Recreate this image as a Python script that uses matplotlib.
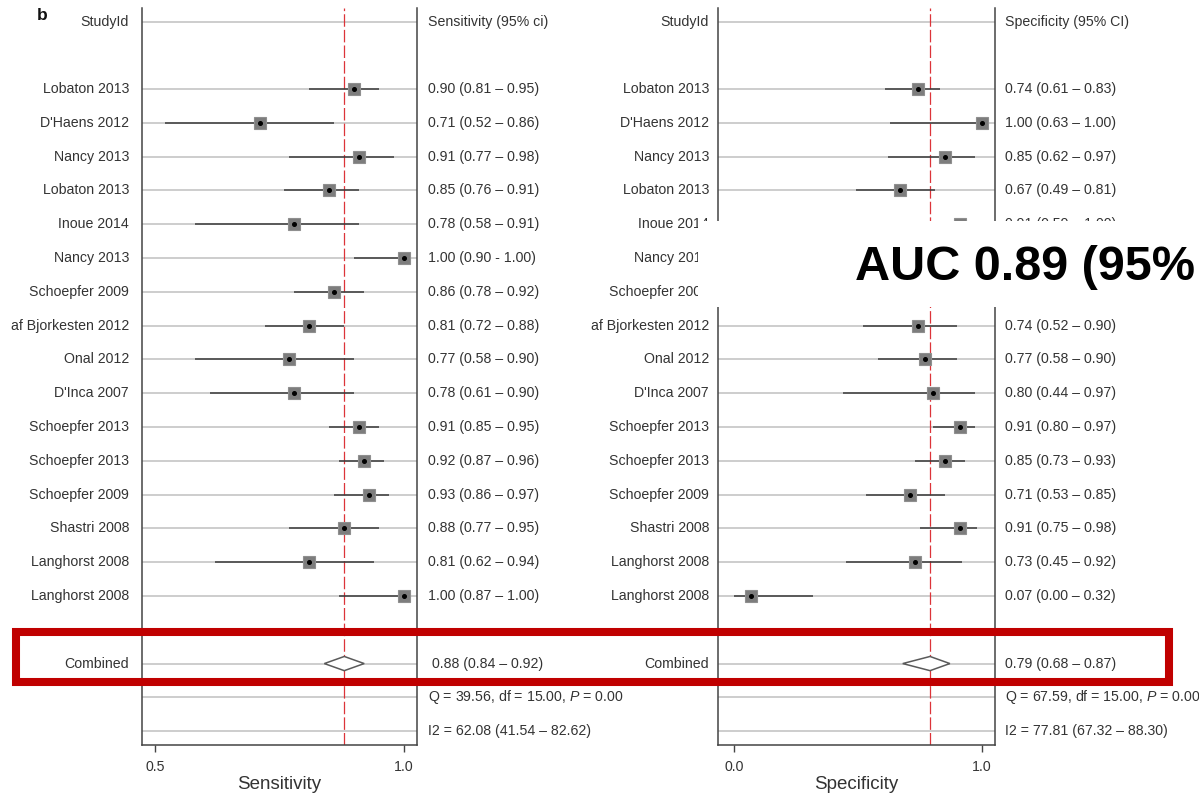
import matplotlib
matplotlib.use('Agg')
import matplotlib.pyplot as plt
from matplotlib.patches import Rectangle, Polygon
from matplotlib.transforms import blended_transform_factory

plt.rcParams['font.family'] = ['Liberation Sans', 'DejaVu Sans']
plt.rcParams['mathtext.fontset'] = 'custom'
plt.rcParams['mathtext.rm'] = 'Liberation Sans'
plt.rcParams['mathtext.it'] = 'Liberation Sans:italic'

# study rows (same order in both panels)
studies = ['Lobaton 2013', "D'Haens 2012", 'Nancy 2013', 'Lobaton 2013', 'Inoue 2014',
           'Nancy 2013', 'Schoepfer 2009', 'af Bjorkesten 2012', 'Onal 2012', "D'Inca 2007",
           'Schoepfer 2013', 'Schoepfer 2013', 'Schoepfer 2009', 'Shastri 2008',
           'Langhorst 2008', 'Langhorst 2008']

sens = [0.90, 0.71, 0.91, 0.85, 0.78, 1.00, 0.86, 0.81, 0.77, 0.78, 0.91, 0.92, 0.93, 0.88, 0.81, 1.00]
sens_lo = [0.81, 0.52, 0.77, 0.76, 0.58, 0.90, 0.78, 0.72, 0.58, 0.61, 0.85, 0.87, 0.86, 0.77, 0.62, 0.87]
sens_hi = [0.95, 0.86, 0.98, 0.91, 0.91, 1.00, 0.92, 0.88, 0.90, 0.90, 0.95, 0.96, 0.97, 0.95, 0.94, 1.00]
sens_sep = ['–', '–', '–', '–', '–', '-', '–', '–', '–', '–', '–', '–', '–', '–', '–', '–']
sens_pooled = [0.88, 0.84, 0.92]
sens_q = [39.56, 15.00, 0.00]
sens_i2 = [62.08, 41.54, 82.62]

spec = [0.74, 1.00, 0.85, 0.67, 0.91, 0.83, 0.83, 0.74, 0.77, 0.80, 0.91, 0.85, 0.71, 0.91, 0.73, 0.07]
spec_lo = [0.61, 0.63, 0.62, 0.49, 0.59, 0.59, 0.69, 0.52, 0.58, 0.44, 0.80, 0.73, 0.53, 0.75, 0.45, 0.00]
spec_hi = [0.83, 1.00, 0.97, 0.81, 1.00, 0.96, 0.92, 0.90, 0.90, 0.97, 0.97, 0.93, 0.85, 0.98, 0.92, 0.32]
spec_sep = ['–'] * 16
spec_pooled = [0.79, 0.68, 0.87]
spec_q = [67.59, 15.00, 0.00]
spec_i2 = [77.81, 67.32, 88.30]

W, H = 1199, 794
fig = plt.figure(figsize=(W / 100, H / 100), dpi=100)

TXT = '#333333'
GRID = '#c9c9c9'
FS = 10.2


def px_axes(x0, x1, y0, y1):
    return fig.add_axes([x0 / W, 1 - y1 / H, (x1 - x0) / W, (y1 - y0) / H])


def forest(ax, est, lo, hi, seps, pooled, q, i2, header, xlabel, xlim, xticks,
           name_x, val_x, comb_x):
    rows = list(range(2, 2 + len(est)))
    comb_row, q_row, i2_row = 19, 20, 21
    tr = blended_transform_factory(fig.transFigure, ax.transData)

    ax.set_xlim(*xlim)
    ax.set_ylim(21.41, -0.40)

    for r in [0] + rows + [comb_row, q_row, i2_row]:
        ax.axhline(r, color=GRID, lw=1.3, zorder=1)
    ax.axvline(pooled[0], color='#dc3439', lw=0.9, dashes=(10, 2.5), zorder=2)

    for r, e, l, h in zip(rows, est, lo, hi):
        ax.plot([l, h], [r, r], color='#3a3a3a', lw=1.1, zorder=3, solid_capstyle='butt')
    ax.plot(est, rows, 's', ms=8.3, mfc='#7d7d7d', mec='#8f8f8f', mew=0.8, zorder=4, ls='none')
    ax.plot(est, rows, 'o', ms=2.6, color='black', zorder=5, ls='none')

    p, pl, ph = pooled
    dh = 0.21
    ax.add_patch(Polygon([[pl, comb_row], [p, comb_row - dh], [ph, comb_row], [p, comb_row + dh]],
                         closed=True, facecolor='white', edgecolor='#5a5a5a', lw=1.1, zorder=4))

    # labels left and right of the panel
    ax.text(name_x / W, 0, 'StudyId', transform=tr, ha='right', va='center', fontsize=FS, color=TXT)
    ax.text(val_x / W, 0, header, transform=tr, ha='left', va='center', fontsize=FS, color=TXT)
    for r, name, e, l, h, s in zip(rows, studies, est, lo, hi, seps):
        ax.text(name_x / W, r, name, transform=tr, ha='right', va='center', fontsize=FS, color=TXT)
        ax.text(val_x / W, r, f'{e:.2f} ({l:.2f} {s} {h:.2f})', transform=tr,
                ha='left', va='center', fontsize=FS, color=TXT)
    ax.text(name_x / W, comb_row, 'Combined', transform=tr, ha='right', va='center', fontsize=FS, color=TXT)
    ax.text(comb_x / W, comb_row, f'{p:.2f} ({pl:.2f} – {ph:.2f})', transform=tr,
            ha='left', va='center', fontsize=FS, color=TXT)
    ax.text(val_x / W, q_row, f'Q = {q[0]:.2f}, df = {q[1]:.2f}, $\\mathit{{P}}$ = {q[2]:.2f}',
            transform=tr, ha='left', va='center', fontsize=FS, color=TXT)
    ax.text(val_x / W, i2_row, f'I2 = {i2[0]:.2f} ({i2[1]:.2f} – {i2[2]:.2f})',
            transform=tr, ha='left', va='center', fontsize=FS, color=TXT)

    for side in ['left', 'right', 'bottom']:
        ax.spines[side].set_color('#444444')
        ax.spines[side].set_linewidth(1.1)
    ax.spines['top'].set_visible(False)
    ax.set_yticks([])
    ax.set_xticks(xticks)
    ax.set_xticklabels([f'{t:.1f}' for t in xticks])
    ax.tick_params(axis='x', direction='out', length=5, width=1, color='#444444',
                   labelsize=FS, labelcolor=TXT, pad=6)
    ax.set_xlabel(xlabel, fontsize=13.5, color=TXT, labelpad=1.5)


axL = px_axes(142, 417, 8, 745)
axR = px_axes(718, 995, 8, 745)

forest(axL, sens, sens_lo, sens_hi, sens_sep, sens_pooled, sens_q, sens_i2,
       'Sensitivity (95% ci)', 'Sensitivity', (0.474, 1.026), [0.5, 1.0], 129, 428, 432)
forest(axR, spec, spec_lo, spec_hi, spec_sep, spec_pooled, spec_q, spec_i2,
       'Specificity (95% CI)', 'Specificity', (-0.065, 1.052), [0.0, 1.0], 709, 1005, 1005)

fig.text(37 / W, 1 - 15 / H, 'b', fontsize=12.5, fontweight='bold', ha='left', va='center', color='#111111')

# highlight around the pooled estimates
fig.add_artist(Rectangle((16 / W, 1 - 682 / H), (1168.5 - 16) / W, 50 / H, transform=fig.transFigure,
                         fill=False, edgecolor='#c00000', lw=5.8, zorder=10))

# AUC callout on a white patch
fig.add_artist(Rectangle((698 / W, 1 - 307 / H), (W - 698) / W, 86 / H, transform=fig.transFigure,
                         facecolor='white', edgecolor='none', zorder=11))
fig.text(855 / W, 1 - 280 / H, 'AUC 0.89 (95%', fontsize=35, fontweight='bold', ha='left',
         va='baseline', color='black', zorder=12)

fig.savefig('out.png', dpi=100, facecolor='white')
